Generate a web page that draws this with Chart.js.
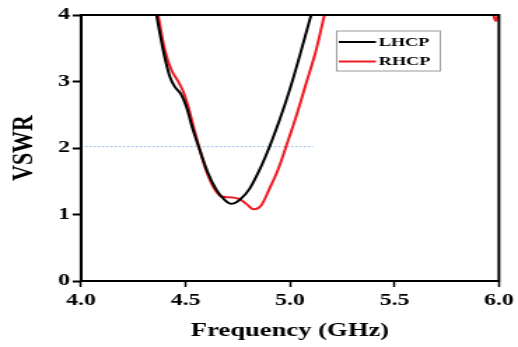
<!DOCTYPE html>
<html>
<head>
<meta charset="utf-8">
<script src="https://cdn.jsdelivr.net/npm/chart.js@4.4.1/dist/chart.umd.min.js"></script>
<style>
  body { margin: 0; background: #fff; overflow: hidden; }
  /* the reference figure is stretched sideways, so draw narrow and stretch the canvas */
  #vswrChart { display: block; transform: scaleX(1.4); transform-origin: 0 0; }
</style>
</head>
<body>
<canvas id="vswrChart" width="370" height="347" style="width:370px;height:347px"></canvas>
<script>
// LHCP curve (frequency in GHz, VSWR)
var lhcpFreq = [4.34, 4.361, 4.393, 4.425, 4.449, 4.48, 4.504, 4.536, 4.568, 4.608, 4.648, 4.687, 4.719, 4.759, 4.807, 4.854, 4.902, 4.95, 4.998, 5.045, 5.101, 5.14];
var lhcpVswr = [4.4, 4.0, 3.47, 3.07, 2.92, 2.8, 2.62, 2.27, 1.97, 1.62, 1.37, 1.22, 1.16, 1.22, 1.39, 1.67, 2.02, 2.42, 2.87, 3.37, 4.0, 4.45];

// RHCP curve
var rhcpFreq = [4.35, 4.369, 4.401, 4.433, 4.465, 4.489, 4.513, 4.544, 4.56, 4.592, 4.632, 4.672, 4.711, 4.759, 4.791, 4.826, 4.863, 4.902, 4.942, 4.981, 5.029, 5.077, 5.125, 5.165, 5.2, 5.96, 5.984, 6.0];
var rhcpVswr = [4.35, 4.0, 3.47, 3.17, 3.0, 2.85, 2.62, 2.25, 2.07, 1.72, 1.42, 1.27, 1.26, 1.23, 1.16, 1.08, 1.14, 1.39, 1.67, 2.02, 2.47, 2.97, 3.47, 4.0, 4.4, 4.15, 3.91, 4.05];

// VSWR = 2 reference line
var refFreq = [4.0, 5.11];
var refVswr = [2.02, 2.02];

var xTicks = [4.0, 4.5, 5.0, 5.5, 6.0];
var yTicks = [0, 1, 2, 3, 4];

function toPoints(xs, ys) {
    return xs.map(function (x, i) { return { x: x, y: ys[i] }; });
}

var serif = 'Liberation Serif, Times New Roman, serif';

// box around the plot area
var framePlugin = {
    id: 'frame',
    afterDatasetsDraw: function (chart) {
        var a = chart.chartArea;
        var ctx = chart.ctx;
        ctx.save();
        ctx.strokeStyle = '#000';
        ctx.lineWidth = 2;
        ctx.strokeRect(a.left, a.top, a.right - a.left, a.bottom - a.top);
        ctx.restore();
    }
};

// boxed legend inside the plot, upper right
var boxLegendPlugin = {
    id: 'boxLegend',
    afterDraw: function (chart) {
        var ctx = chart.ctx;
        var sets = chart.data.datasets.filter(function (d) { return d.label; });
        ctx.save();
        ctx.strokeStyle = '#9a9a9a';
        ctx.lineWidth = 1;
        ctx.strokeRect(240.5, 31, 74, 40);
        ctx.font = 'bold 13px ' + serif;
        ctx.textBaseline = 'middle';
        ctx.textAlign = 'left';
        sets.forEach(function (d, i) {
            var y = 42 + i * 19.5;
            ctx.strokeStyle = d.borderColor;
            ctx.lineWidth = 2;
            ctx.beginPath();
            ctx.moveTo(242, y);
            ctx.lineTo(268.5, y);
            ctx.stroke();
            ctx.fillStyle = '#000';
            ctx.fillText(d.label, 270.5, y + 0.5);
        });
        ctx.restore();
    }
};

var ctx = document.getElementById('vswrChart').getContext('2d');
var vswrChart = new Chart(ctx, {
    type: 'line',
    data: {
        datasets: [{
            label: 'LHCP',
            data: toPoints(lhcpFreq, lhcpVswr),
            borderColor: '#000000',
            borderWidth: 2,
            pointRadius: 0,
            cubicInterpolationMode: 'monotone',
            fill: false,
        }, {
            label: 'RHCP',
            data: toPoints(rhcpFreq, rhcpVswr),
            borderColor: '#ee1c24',
            borderWidth: 2,
            pointRadius: 0,
            cubicInterpolationMode: 'monotone',
            fill: false,
        }, {
            label: '',
            data: toPoints(refFreq, refVswr),
            borderColor: '#8fb6e3',
            borderWidth: 1,
            borderDash: [1.5, 1.5],
            pointRadius: 0,
            fill: false,
        }],
    },
    options: {
        responsive: false,
        animation: false,
        layout: {
            padding: { top: 15, right: 12.9, left: 0, bottom: 0 },
        },
        plugins: {
            legend: { display: false },
            tooltip: { enabled: false },
        },
        scales: {
            x: {
                type: 'linear',
                min: 4.0,
                max: 6.0,
                afterBuildTicks: function (scale) {
                    scale.ticks = xTicks.map(function (v) { return { value: v }; });
                },
                afterFit: function (scale) { scale.height = 66; },
                grid: {
                    drawOnChartArea: false,
                    drawTicks: true,
                    tickLength: 6,
                    tickWidth: 1.5,
                    tickColor: '#000',
                },
                border: { color: '#000', width: 2 },
                ticks: {
                    color: '#000',
                    padding: 3,
                    maxRotation: 0,
                    font: { family: serif, size: 17, weight: 'bold' },
                    callback: function (v) { return v.toFixed(1); },
                },
                title: {
                    display: true,
                    text: 'Frequency (GHz)',
                    color: '#000',
                    padding: { top: 0, bottom: 5 },
                    font: { family: serif, size: 19, weight: 'bold' },
                },
            },
            y: {
                min: 0,
                max: 4,
                afterBuildTicks: function (scale) {
                    scale.ticks = yTicks.map(function (v) { return { value: v }; });
                },
                afterFit: function (scale) { scale.width = 57.9; },
                grid: {
                    drawOnChartArea: false,
                    drawTicks: true,
                    tickLength: 6,
                    tickWidth: 2,
                    tickColor: '#000',
                },
                border: { color: '#000', width: 2 },
                ticks: {
                    color: '#000',
                    padding: 2,
                    font: { family: serif, size: 17, weight: 'bold' },
                },
                title: {
                    display: true,
                    text: 'VSWR',
                    color: '#000',
                    padding: { top: 4, bottom: 0 },
                    font: { family: serif, size: 22, weight: 'bold' },
                },
            },
        },
    },
    plugins: [framePlugin, boxLegendPlugin],
});
</script>
</body>
</html>
